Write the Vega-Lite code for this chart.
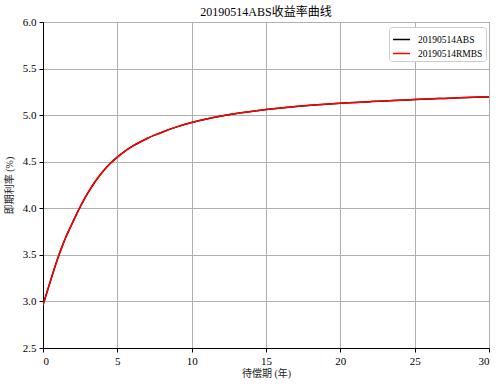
{
  "$schema": "https://vega.github.io/schema/vega-lite/v6.json",
  "width": 446,
  "height": 326,
  "autosize": {"type": "none"},
  "padding": {"left": 43, "top": 22, "right": 12, "bottom": 38},
  "background": "white",
  "title": {
    "text": "20190514ABS收益率曲线",
    "font": "Liberation Serif, Noto Sans CJK SC",
    "fontSize": 12,
    "fontWeight": "normal",
    "color": "#000000",
    "frame": "group",
    "offset": -3
  },
  "config": {
    "view": {"stroke": "#000000", "strokeWidth": 1},
    "font": "Liberation Serif, Noto Sans CJK SC",
    "axis": {
      "labelFont": "Liberation Serif, Noto Sans CJK SC",
      "titleFont": "Liberation Serif, Noto Sans CJK SC",
      "labelFontSize": 11,
      "titleFontSize": 10,
      "titleFontWeight": "normal",
      "labelColor": "#000000",
      "titleColor": "#222222",
      "domainColor": "#000000",
      "tickColor": "#000000",
      "tickSize": 4,
      "gridColor": "#b0b0b0",
      "gridWidth": 1
    }
  },
  "datasets": {
    "curve": [
      {"series": "20190514ABS", "t": 0, "rate": 2.96},
      {"series": "20190514ABS", "t": 0.25, "rate": 3.09},
      {"series": "20190514ABS", "t": 0.5, "rate": 3.22},
      {"series": "20190514ABS", "t": 0.75, "rate": 3.345},
      {"series": "20190514ABS", "t": 1, "rate": 3.465},
      {"series": "20190514ABS", "t": 1.25, "rate": 3.575},
      {"series": "20190514ABS", "t": 1.5, "rate": 3.675},
      {"series": "20190514ABS", "t": 1.75, "rate": 3.765},
      {"series": "20190514ABS", "t": 2, "rate": 3.85},
      {"series": "20190514ABS", "t": 2.25, "rate": 3.935},
      {"series": "20190514ABS", "t": 2.5, "rate": 4.015},
      {"series": "20190514ABS", "t": 2.75, "rate": 4.09},
      {"series": "20190514ABS", "t": 3, "rate": 4.16},
      {"series": "20190514ABS", "t": 3.5, "rate": 4.285},
      {"series": "20190514ABS", "t": 4, "rate": 4.39},
      {"series": "20190514ABS", "t": 4.5, "rate": 4.478},
      {"series": "20190514ABS", "t": 5, "rate": 4.55},
      {"series": "20190514ABS", "t": 5.5, "rate": 4.612},
      {"series": "20190514ABS", "t": 6, "rate": 4.664},
      {"series": "20190514ABS", "t": 6.5, "rate": 4.709},
      {"series": "20190514ABS", "t": 7, "rate": 4.749},
      {"series": "20190514ABS", "t": 7.5, "rate": 4.785},
      {"series": "20190514ABS", "t": 8, "rate": 4.817},
      {"series": "20190514ABS", "t": 9, "rate": 4.874},
      {"series": "20190514ABS", "t": 10, "rate": 4.92},
      {"series": "20190514ABS", "t": 11, "rate": 4.958},
      {"series": "20190514ABS", "t": 12, "rate": 4.99},
      {"series": "20190514ABS", "t": 13, "rate": 5.017},
      {"series": "20190514ABS", "t": 14, "rate": 5.04},
      {"series": "20190514ABS", "t": 15, "rate": 5.06},
      {"series": "20190514ABS", "t": 16, "rate": 5.077},
      {"series": "20190514ABS", "t": 17, "rate": 5.092},
      {"series": "20190514ABS", "t": 18, "rate": 5.105},
      {"series": "20190514ABS", "t": 19, "rate": 5.117},
      {"series": "20190514ABS", "t": 20, "rate": 5.127},
      {"series": "20190514ABS", "t": 21, "rate": 5.136},
      {"series": "20190514ABS", "t": 22, "rate": 5.145},
      {"series": "20190514ABS", "t": 23, "rate": 5.153},
      {"series": "20190514ABS", "t": 24, "rate": 5.16},
      {"series": "20190514ABS", "t": 25, "rate": 5.167},
      {"series": "20190514ABS", "t": 26, "rate": 5.174},
      {"series": "20190514ABS", "t": 27, "rate": 5.18},
      {"series": "20190514ABS", "t": 28, "rate": 5.186},
      {"series": "20190514ABS", "t": 29, "rate": 5.191},
      {"series": "20190514ABS", "t": 30, "rate": 5.196},
      {"series": "20190514RMBS", "t": 0, "rate": 2.96},
      {"series": "20190514RMBS", "t": 0.25, "rate": 3.09},
      {"series": "20190514RMBS", "t": 0.5, "rate": 3.22},
      {"series": "20190514RMBS", "t": 0.75, "rate": 3.345},
      {"series": "20190514RMBS", "t": 1, "rate": 3.465},
      {"series": "20190514RMBS", "t": 1.25, "rate": 3.575},
      {"series": "20190514RMBS", "t": 1.5, "rate": 3.675},
      {"series": "20190514RMBS", "t": 1.75, "rate": 3.765},
      {"series": "20190514RMBS", "t": 2, "rate": 3.85},
      {"series": "20190514RMBS", "t": 2.25, "rate": 3.935},
      {"series": "20190514RMBS", "t": 2.5, "rate": 4.015},
      {"series": "20190514RMBS", "t": 2.75, "rate": 4.09},
      {"series": "20190514RMBS", "t": 3, "rate": 4.16},
      {"series": "20190514RMBS", "t": 3.5, "rate": 4.285},
      {"series": "20190514RMBS", "t": 4, "rate": 4.39},
      {"series": "20190514RMBS", "t": 4.5, "rate": 4.478},
      {"series": "20190514RMBS", "t": 5, "rate": 4.55},
      {"series": "20190514RMBS", "t": 5.5, "rate": 4.612},
      {"series": "20190514RMBS", "t": 6, "rate": 4.664},
      {"series": "20190514RMBS", "t": 6.5, "rate": 4.709},
      {"series": "20190514RMBS", "t": 7, "rate": 4.749},
      {"series": "20190514RMBS", "t": 7.5, "rate": 4.785},
      {"series": "20190514RMBS", "t": 8, "rate": 4.817},
      {"series": "20190514RMBS", "t": 9, "rate": 4.874},
      {"series": "20190514RMBS", "t": 10, "rate": 4.92},
      {"series": "20190514RMBS", "t": 11, "rate": 4.958},
      {"series": "20190514RMBS", "t": 12, "rate": 4.99},
      {"series": "20190514RMBS", "t": 13, "rate": 5.017},
      {"series": "20190514RMBS", "t": 14, "rate": 5.04},
      {"series": "20190514RMBS", "t": 15, "rate": 5.06},
      {"series": "20190514RMBS", "t": 16, "rate": 5.077},
      {"series": "20190514RMBS", "t": 17, "rate": 5.092},
      {"series": "20190514RMBS", "t": 18, "rate": 5.105},
      {"series": "20190514RMBS", "t": 19, "rate": 5.117},
      {"series": "20190514RMBS", "t": 20, "rate": 5.127},
      {"series": "20190514RMBS", "t": 21, "rate": 5.136},
      {"series": "20190514RMBS", "t": 22, "rate": 5.145},
      {"series": "20190514RMBS", "t": 23, "rate": 5.153},
      {"series": "20190514RMBS", "t": 24, "rate": 5.16},
      {"series": "20190514RMBS", "t": 25, "rate": 5.167},
      {"series": "20190514RMBS", "t": 26, "rate": 5.174},
      {"series": "20190514RMBS", "t": 27, "rate": 5.18},
      {"series": "20190514RMBS", "t": 28, "rate": 5.186},
      {"series": "20190514RMBS", "t": 29, "rate": 5.191},
      {"series": "20190514RMBS", "t": 30, "rate": 5.196}
    ]
  },
  "data": {"name": "curve"},
  "mark": {"type": "line", "strokeWidth": 1.5, "clip": true, "interpolate": "monotone"},
  "encoding": {
    "x": {
      "field": "t",
      "type": "quantitative",
      "scale": {"domain": [0, 30], "nice": false, "zero": false},
      "axis": {
        "title": "待偿期 (年)",
        "values": [0, 5, 10, 15, 20, 25, 30],
        "format": "d",
        "labelPadding": 3,
        "titlePadding": 2
      }
    },
    "y": {
      "field": "rate",
      "type": "quantitative",
      "scale": {"domain": [2.5, 6.0], "nice": false, "zero": false},
      "axis": {
        "title": "即期利率 (%)",
        "values": [2.5, 3.0, 3.5, 4.0, 4.5, 5.0, 5.5, 6.0],
        "format": ".1f",
        "labelPadding": 3,
        "titlePadding": 8
      }
    },
    "color": {
      "field": "series",
      "type": "nominal",
      "scale": {
        "domain": ["20190514ABS", "20190514RMBS"],
        "range": ["#000000", "#ff0000"]
      },
      "legend": {
        "title": null,
        "orient": "none",
        "legendX": 346,
        "legendY": 5,
        "symbolType": "stroke",
        "symbolSize": 289,
        "symbolStrokeWidth": 1.5,
        "symbolOffset": 0,
        "labelOffset": 7,
        "labelFont": "Liberation Serif, Noto Sans CJK SC",
        "labelFontSize": 9.5,
        "labelColor": "#000000",
        "fillColor": "white",
        "strokeColor": "#cccccc",
        "cornerRadius": 3,
        "padding": 3,
        "rowPadding": 0
      }
    }
  }
}
